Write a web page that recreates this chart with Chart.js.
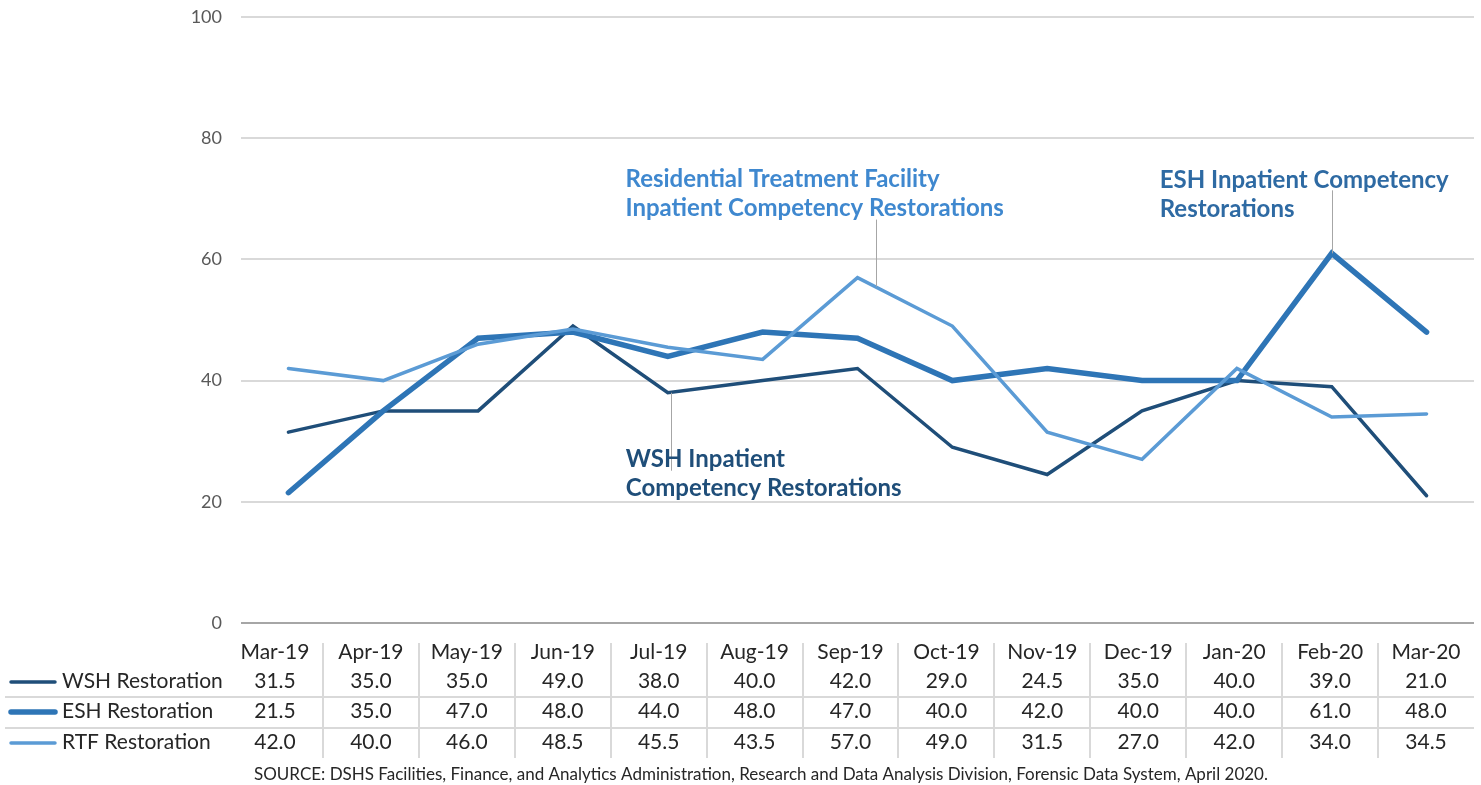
<html>
<head>
<script src="https://cdn.jsdelivr.net/npm/chart.js@4.4.1/dist/chart.umd.min.js"></script>
<style>
body { margin: 0; background: #fff; }
</style>
</head>
<body>
<canvas id="myChart" width="1481" height="785"></canvas>
<script type="text/javascript">

// chart data
var months = ["Mar-19", "Apr-19", "May-19", "Jun-19", "Jul-19", "Aug-19", "Sep-19", "Oct-19", "Nov-19", "Dec-19", "Jan-20", "Feb-20", "Mar-20"];
var wsh = [31.5, 35.0, 35.0, 49.0, 38.0, 40.0, 42.0, 29.0, 24.5, 35.0, 40.0, 39.0, 21.0];
var esh = [21.5, 35.0, 47.0, 48.0, 44.0, 48.0, 47.0, 40.0, 42.0, 40.0, 40.0, 61.0, 48.0];
var rtf = [42.0, 40.0, 46.0, 48.5, 45.5, 43.5, 57.0, 49.0, 31.5, 27.0, 42.0, 34.0, 34.5];
var seriesNames = ["WSH Restoration", "ESH Restoration", "RTF Restoration"];
var yTicks = [0, 20, 40, 60, 80, 100];
var sourceNote = "SOURCE: DSHS Facilities, Finance, and Analytics Administration, Research and Data Analysis Division, Forensic Data System, April 2020.";

var colors = ["#1f4e79", "#2e75b6", "#5b9bd5"];
var widths = [3.5, 5.5, 3.5];
var FONT = "Lato, 'Open Sans', sans-serif";

// callout labels: series, point index, text lines, text pos relative to point, leader line
var callouts = [
	{ ds: 2, i: 6, lines: ["Residential Treatment Facility", "Inpatient Competency Restorations"], color: "#3f88cf", dx: -232, dy: -98, lx: 18, ly1: -58, ly2: 9 },
	{ ds: 1, i: 11, lines: ["ESH Inpatient Competency", "Restorations"], color: "#2e6aa3", dx: -172, dy: -73, lx: 0, ly1: -63, ly2: 0 },
	{ ds: 0, i: 4, lines: ["WSH Inpatient", "Competency Restorations"], color: "#1f4e79", dx: -42, dy: 67, lx: 3, ly1: 0, ly2: 78 }
];

var tablePlugin = {
	id: "dataTable",
	afterDraw: function(chart) {
		var ctx = chart.ctx;
		var area = chart.chartArea;
		var colW = (area.right - 227) / months.length;
		var left = 227;
		ctx.save();

		// callouts
		callouts.forEach(function(c) {
			var pt = chart.getDatasetMeta(c.ds).data[c.i];
			ctx.strokeStyle = "#a6a6a6";
			ctx.lineWidth = 1;
			ctx.beginPath();
			ctx.moveTo(Math.round(pt.x + c.lx) + 0.5, pt.y + c.ly1);
			ctx.lineTo(Math.round(pt.x + c.lx) + 0.5, pt.y + c.ly2);
			ctx.stroke();
			ctx.fillStyle = c.color;
			ctx.font = "bold 24px " + FONT;
			ctx.textAlign = "left";
			ctx.textBaseline = "middle";
			c.lines.forEach(function(t, k) {
				ctx.fillText(t, pt.x + c.dx, pt.y + c.dy + k * 29);
			});
		});

		// table grid
		ctx.strokeStyle = "#d9d9d9";
		ctx.lineWidth = 2;
		[697, 728].forEach(function(y) {
			ctx.beginPath();
			ctx.moveTo(5, y);
			ctx.lineTo(area.right, y);
			ctx.stroke();
		});
		for (var j = 1; j < months.length; j++) {
			var x = Math.round(left + j * colW);
			ctx.beginPath();
			ctx.moveTo(x, 643);
			ctx.lineTo(x, 758);
			ctx.stroke();
		}

		// header + values
		ctx.fillStyle = "#262626";
		ctx.font = "21px " + FONT;
		ctx.textAlign = "center";
		ctx.textBaseline = "middle";
		var rows = [wsh, esh, rtf];
		var rowY = [681, 711, 742];
		months.forEach(function(m, j) {
			var cx = left + (j + 0.5) * colW;
			ctx.fillText(m, cx, 652);
			rows.forEach(function(r, k) {
				ctx.fillText(r[j].toFixed(1), cx, rowY[k]);
			});
		});

		// legend keys
		ctx.textAlign = "left";
		seriesNames.forEach(function(n, k) {
			ctx.strokeStyle = colors[k];
			ctx.lineWidth = widths[k];
			ctx.lineCap = "round";
			ctx.beginPath();
			ctx.moveTo(11, rowY[k] + 1);
			ctx.lineTo(55, rowY[k] + 1);
			ctx.stroke();
			ctx.fillText(n, 62, rowY[k]);
		});

		// source
		ctx.font = "17px " + FONT;
		ctx.fillStyle = "#262626";
		ctx.textAlign = "center";
		ctx.fillText(sourceNote, 761, 775);
		ctx.restore();
	}
};

new Chart("myChart", {
	type: "line",
	data: {
		labels: months,
		datasets: [wsh, esh, rtf].map(function(d, k) {
			return {
				label: seriesNames[k],
				data: d,
				borderColor: colors[k],
				borderWidth: widths[k],
				borderJoinStyle: "miter",
				borderCapStyle: "round",
				pointRadius: 0,
				tension: 0,
				fill: false,
				order: 2 - k
			};
		})
	},
	options: {
		responsive: false,
		animation: false,
		layout: { padding: { top: 17, right: 7, bottom: 162, left: 0 } },
		plugins: { legend: { display: false }, tooltip: { enabled: false } },
		scales: {
			x: { display: false, offset: true },
			y: {
				min: 0, max: 100,
				afterBuildTicks: function(s) { s.ticks = yTicks.map(function(v) { return { value: v }; }); },
				afterFit: function(s) { s.width = 241; s.paddingTop = 0; s.paddingBottom = 0; },
				border: { display: false },
				grid: {
					drawTicks: false,
					lineWidth: 2,
					color: function(c) { return c.tick.value === 0 ? "#a6a6a6" : "#d9d9d9"; }
				},
				ticks: { padding: 19, color: "#595959", font: { family: FONT, size: 18 } }
			}
		}
	},
	plugins: [tablePlugin]
});
</script>
</body>
</html>
